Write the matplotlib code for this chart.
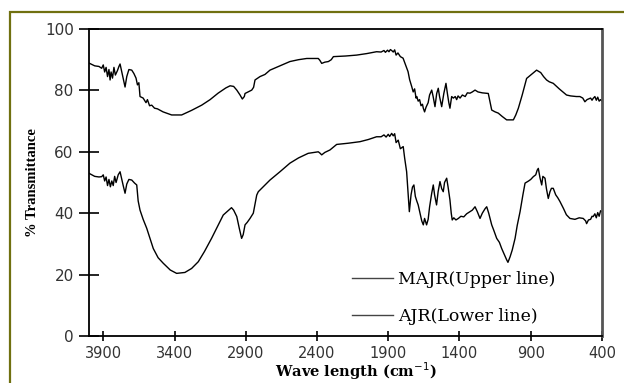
import numpy as np
import matplotlib
matplotlib.use("Agg")
import matplotlib.pyplot as plt
import matplotlib.patches as mpatches
from matplotlib.lines import Line2D

# MAJR (upper line): wavenumber (cm-1), % transmittance
majr_wn = [4000, 3960, 3930, 3911, 3900, 3890, 3880, 3870, 3860, 3852, 3845, 3835, 3825, 3815,
           3800, 3790, 3782, 3770, 3760, 3747, 3735, 3720, 3700, 3685, 3670, 3660, 3650, 3642,
           3620, 3600, 3590, 3575, 3560, 3540, 3520, 3480, 3420, 3350, 3280, 3209, 3150, 3094,
           3040, 3010, 2985, 2963, 2940, 2924, 2910, 2905, 2880, 2858, 2845, 2835, 2800, 2765,
           2730, 2660, 2590, 2530, 2472, 2391, 2380, 2367, 2345, 2320, 2300, 2285, 2200, 2122,
           2050, 1982, 1950, 1930, 1920, 1905, 1895, 1885, 1876, 1865, 1855, 1845, 1832, 1815,
           1796, 1780, 1761, 1750, 1740, 1735, 1725, 1715, 1705, 1700, 1690, 1680, 1670, 1660,
           1654, 1645, 1635, 1620, 1610, 1595, 1585, 1572, 1560, 1549, 1540, 1525, 1510, 1495,
           1485, 1475, 1467, 1455, 1443, 1430, 1420, 1410, 1396, 1380, 1360, 1345, 1326, 1310,
           1291, 1270, 1240, 1198, 1185, 1174, 1150, 1128, 1100, 1069, 1022, 1005, 987, 960,
           929, 900, 859, 830, 810, 789, 770, 742, 700, 649, 620, 580, 555, 535, 520, 505, 480,
           470, 462, 450, 440, 430, 420, 410, 400]
majr_t = [88.9, 88.0, 87.8, 87.2, 88.3, 86.0, 87.5, 84.5, 86.8, 83.4, 86.0, 84.0, 87.5, 85.0,
          86.5, 87.8, 88.6, 86.0, 84.0, 81.1, 84.5, 86.8, 86.6, 85.5, 84.0, 81.8, 82.5, 78.0,
          77.5, 76.0, 77.0, 75.0, 75.2, 74.2, 74.0, 73.0, 72.0, 72.0, 73.5, 75.2, 77.0, 79.1,
          80.8, 81.5, 81.3, 80.1, 78.5, 77.2, 78.0, 79.0, 79.6, 80.1, 81.0, 83.4, 84.5, 85.2,
          86.6, 88.0, 89.4, 90.0, 90.4, 90.4, 89.8, 88.8, 89.2, 89.4, 90.0, 91.0, 91.2, 91.5,
          92.0, 92.6, 92.5, 93.0, 92.4, 93.1, 92.6, 93.3, 93.0, 92.5, 93.2, 91.5, 92.2, 91.0,
          90.5, 88.5, 86.1, 83.5, 82.0, 81.2, 79.5, 80.5, 77.5, 78.0, 76.5, 77.0, 75.0, 75.5,
          74.2, 73.0, 74.5, 76.0, 78.5, 80.1, 78.0, 74.7, 79.0, 80.7, 78.0, 74.7, 79.0, 82.3,
          79.0, 76.0, 74.2, 78.0, 77.5, 78.0, 77.0, 78.2, 77.5, 78.5, 78.0, 79.2, 79.1, 79.5,
          80.1, 79.5, 79.2, 79.0, 76.0, 73.6, 73.0, 72.6, 71.5, 70.4, 70.4, 72.0, 74.2, 78.5,
          83.9, 85.0, 86.6, 85.8, 84.5, 83.4, 82.8, 82.3, 80.5, 78.5, 78.2, 78.0, 78.0, 77.5,
          76.3, 77.0, 77.5, 76.8, 77.4, 78.0, 76.8, 77.8, 76.5, 77.0, 76.5]

# AJR (lower line)
ajr_wn = [4000, 3960, 3930, 3911, 3900, 3890, 3880, 3870, 3860, 3850, 3840, 3830, 3820, 3810,
          3795, 3782, 3770, 3760, 3747, 3735, 3720, 3700, 3680, 3665, 3655, 3642, 3620, 3595,
          3570, 3549, 3515, 3479, 3430, 3385, 3327, 3280, 3233, 3190, 3140, 3100, 3058, 3020,
          3000, 2985, 2963, 2945, 2929, 2918, 2905, 2890, 2870, 2847, 2835, 2823, 2812, 2765,
          2730, 2660, 2590, 2530, 2462, 2391, 2380, 2367, 2345, 2309, 2262, 2180, 2098, 2040,
          1982, 1950, 1930, 1915, 1900, 1890, 1876, 1865, 1855, 1845, 1830, 1815, 1795, 1785,
          1771, 1760, 1752, 1740, 1730, 1720, 1710, 1700, 1690, 1675, 1665, 1654, 1645, 1631,
          1620, 1610, 1595, 1584, 1575, 1561, 1550, 1537, 1525, 1514, 1505, 1490, 1480, 1467,
          1458, 1451, 1440, 1425, 1408, 1390, 1370, 1350, 1326, 1310, 1291, 1275, 1256, 1240,
          1220, 1209, 1195, 1174, 1160, 1139, 1120, 1104, 1085, 1069, 1060, 1045, 1030, 1010,
          995, 975, 955, 940, 915, 900, 882, 865, 855, 847, 835, 823, 815, 800, 790, 777, 765,
          755, 742, 725, 710, 695, 670, 650, 625, 590, 560, 532, 515, 508, 495, 480, 470, 462,
          450, 440, 430, 420, 410, 400]
ajr_t = [53.0, 52.0, 51.8, 51.9, 52.5, 50.5, 51.8, 49.0, 51.0, 48.6, 50.5, 49.0, 52.0, 50.0,
         52.5, 53.5, 51.0, 49.0, 46.5, 49.5, 51.0, 50.8, 49.8, 49.2, 44.0, 41.0, 38.0, 35.1,
         31.5, 28.5, 25.5, 23.7, 21.5, 20.4, 20.7, 22.0, 24.2, 27.5, 31.8, 35.5, 39.4, 41.0,
         41.8, 41.0, 38.9, 35.0, 31.8, 33.0, 36.2, 37.0, 38.3, 40.0, 43.0, 45.9, 47.0, 49.2,
         50.8, 53.5, 56.3, 58.0, 59.5, 60.0, 59.6, 59.0, 59.8, 60.6, 62.4, 62.8, 63.3, 64.0,
         64.9, 64.9, 65.5, 64.8, 65.7, 65.0, 66.0, 65.2, 65.9, 63.0, 63.8, 61.0, 61.7, 58.0,
         53.5, 46.0, 40.5, 46.0, 48.5, 49.2, 45.5, 44.0, 42.7, 39.5, 37.5, 36.2, 38.3, 36.2,
         38.0, 42.0, 46.5, 49.2, 46.0, 42.7, 47.0, 50.3, 48.0, 47.0, 50.0, 51.4, 48.5, 44.3,
         40.0, 37.8, 38.5, 37.8, 38.3, 39.0, 38.8, 39.8, 40.5, 41.0, 42.1, 40.5, 38.3, 40.0,
         41.5, 42.1, 40.0, 36.2, 34.5, 31.8, 30.5, 28.5, 26.5, 24.8, 24.0, 25.8, 28.0, 31.8,
         36.0, 40.5, 46.0, 49.8, 50.5, 51.0, 51.9, 52.5, 54.0, 54.6, 51.5, 49.2, 52.0, 51.4,
         48.0, 44.8, 47.0, 48.1, 48.1, 46.0, 45.0, 43.8, 41.5, 39.5, 38.3, 38.0, 38.5, 38.3,
         37.5, 36.6, 37.8, 38.0, 39.0, 38.9, 39.8, 38.5, 40.2, 39.0, 40.8, 40.5]

x_ticks = [3900, 3400, 2900, 2400, 1900, 1400, 900, 400]
y_ticks = [0, 20, 40, 60, 80, 100]

fig = plt.figure(figsize=(6.24, 3.83), dpi=100)
ax = fig.add_axes([89 / 624, 47 / 383, 513 / 624, 307 / 383])

ax.plot(majr_wn, majr_t, color="black", lw=1.0)
ax.plot(ajr_wn, ajr_t, color="black", lw=1.0)

ax.set_xlim(4000, 400)
ax.set_ylim(0, 100)
ax.set_xticks(x_ticks)
ax.set_yticks(y_ticks)
ax.tick_params(axis="x", direction="inout", length=7, width=1.2, labelsize=10.5, pad=4)
ax.tick_params(axis="y", direction="inout", length=14, width=1.2, labelsize=11, pad=4)
for lab in ax.get_xticklabels() + ax.get_yticklabels():
    lab.set_color("#333333")

for side in ["left", "bottom", "top"]:
    ax.spines[side].set_linewidth(1.3)
ax.spines["right"].set_linewidth(2.0)
ax.spines["right"].set_color("#555555")

ax.set_ylabel("% Transmittance", family="Liberation Serif", fontweight="bold",
              fontsize=10.5, labelpad=4)
ax.set_xlabel("Wave length (cm$^{-1}$)", family="DejaVu Serif", fontweight="bold",
              fontsize=10.5)
ax.xaxis.set_label_coords(0.52, -0.116)
ax.xaxis.label.set_va("center")

handles = [Line2D([], [], color="#444444", lw=1.0), Line2D([], [], color="#444444", lw=1.0)]
ax.legend(handles, ["MAJR(Upper line)", "AJR(Lower line)"], loc="lower left",
          bbox_to_anchor=(0.495, 0.008), frameon=False, borderpad=0, handlelength=2.4,
          handletextpad=0.3, labelspacing=1.15,
          prop={"family": "DejaVu Serif", "size": 12.5})

# outer frame of the original figure
fig.patches.append(mpatches.Rectangle((10 / 624, -0.1), 1.0, (383 - 12) / 383 + 0.1,
                                      transform=fig.transFigure, fill=False,
                                      ec="#707010", lw=1.6))

fig.savefig("out.png", dpi=100)
